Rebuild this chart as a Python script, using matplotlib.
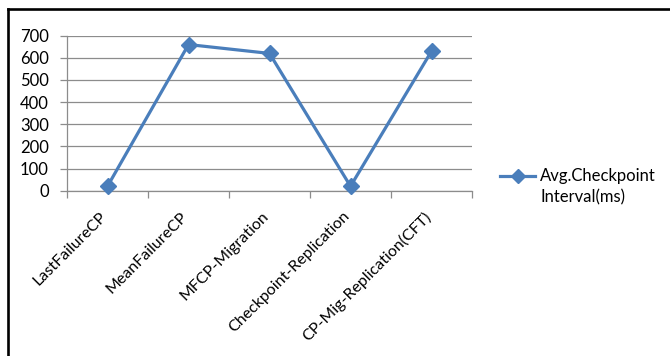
import matplotlib
matplotlib.use("Agg")
import matplotlib.pyplot as plt
from matplotlib.lines import Line2D
from matplotlib.transforms import ScaledTranslation

# Data
categories = ["LastFailureCP", "MeanFailureCP", "MFCP-Migration",
              "Checkpoint-Replication", "CP-Mig-Replication(CFT)"]
avg_interval = [20, 660, 620, 20, 630]
series_label = ["Avg.Checkpoint", "Interval(ms)"]
y_ticks = [0, 100, 200, 300, 400, 500, 600, 700]

# Styling
LINE_COLOR = "#4A7EBB"
GRID_COLOR = "#8C8C8C"
FONT_SIZE = 12
XLABEL_SIZE = 11.5

plt.rcParams["font.family"] = ["Lato", "DejaVu Sans"]

W, H = 670, 356
fig = plt.figure(figsize=(W / 100, H / 100), dpi=100)
fig.patch.set_facecolor("white")

# plot area in pixel coordinates (left, top, right, bottom)
pl, pt, pr, pb = 67, 35.7, 472, 190.7
ax = fig.add_axes([pl / W, 1 - pb / H, (pr - pl) / W, (pb - pt) / H])

x = list(range(len(categories)))
ax.plot(x, avg_interval, color=LINE_COLOR, lw=2.3, marker="D", ms=8,
        markeredgecolor=LINE_COLOR, markerfacecolor=LINE_COLOR, zorder=3,
        clip_on=False)

ax.set_xlim(-0.5, len(categories) - 0.5)
ax.set_ylim(y_ticks[0], y_ticks[-1])
ax.set_yticks(y_ticks)
ax.set_yticklabels([str(v) for v in y_ticks], fontsize=FONT_SIZE)
ax.yaxis.grid(True, color=GRID_COLOR, lw=0.9)
ax.set_axisbelow(True)

# category labels centred, tick marks on category boundaries
ax.set_xticks(x)
ax.set_xticks([i - 0.5 for i in range(len(categories) + 1)], minor=True)
ax.tick_params(axis="x", which="major", length=0, pad=17)
ax.tick_params(axis="x", which="minor", length=5, color=GRID_COLOR, width=0.9,
               direction="out")
ax.tick_params(axis="y", length=5, color=GRID_COLOR, width=0.9, pad=8,
               direction="out")
ax.set_xticklabels(categories, fontsize=XLABEL_SIZE, rotation=45, ha="right",
                   va="center", rotation_mode="anchor")
shift = ScaledTranslation(-3 / 100, 0, fig.dpi_scale_trans)
for lab in ax.get_xticklabels():
    lab.set_transform(lab.get_transform() + shift)

for side in ("top", "right"):
    ax.spines[side].set_visible(False)
for side in ("left", "bottom"):
    ax.spines[side].set_color(GRID_COLOR)
    ax.spines[side].set_linewidth(0.9)

# legend: sample line with marker, label on two lines
ly = 1 - 176 / H
fig.add_artist(Line2D([500 / W, 517.5 / W, 535 / W], [ly, ly, ly],
                      transform=fig.transFigure, color=LINE_COLOR, lw=2.3,
                      marker="D", ms=7, markevery=[1]))
fig.text(540 / W, ly, series_label[0], fontsize=FONT_SIZE, va="center",
         ha="left")
fig.text(540 / W, 1 - 197 / H, series_label[1], fontsize=FONT_SIZE,
         va="center", ha="left")

# outer frame (top and left edges)
fig.add_artist(Line2D([7.5 / W, 1.0], [1 - 9 / H, 1 - 9 / H],
                      transform=fig.transFigure, color="black", lw=1.9))
fig.add_artist(Line2D([7.5 / W, 7.5 / W], [0.0, 1 - 9 / H],
                      transform=fig.transFigure, color="black", lw=1.9))

fig.savefig("out.png", dpi=100)
